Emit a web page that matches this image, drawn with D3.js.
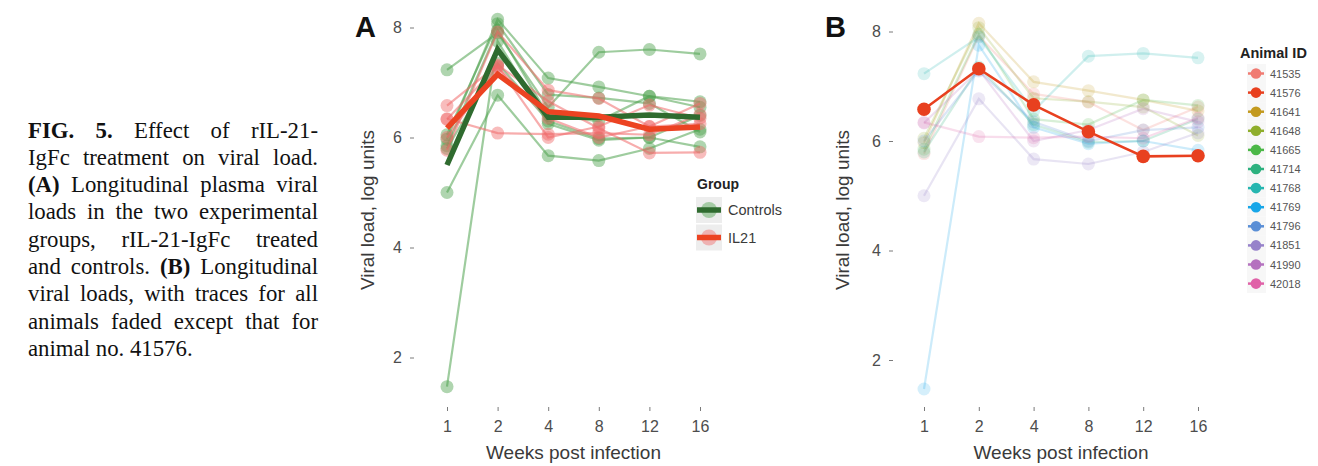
<!DOCTYPE html>
<html><head><meta charset="utf-8">
<script src="https://cdn.jsdelivr.net/npm/d3@7"></script>
<style>body{margin:0;background:#fff}svg{display:block}</style>
</head><body>
<svg id="c" width="1318" height="466"></svg>
<script>
// ---------- data ----------
const weeks = ["1","2","4","8","12","16"];
const yTicks = [2,4,6,8];
const animalIds = ["41535","41576","41641","41648","41665","41714","41768","41769","41796","41851","41990","42018"];
const animalGroups = ["IL21","IL21","Controls","Controls","Controls","Controls","Controls","Controls","IL21","Controls","IL21","IL21"];
const animalColors = ["#F07B72","#E8401F","#C39A1F","#8FAE2C","#4CB848","#2DB17F","#27B6B0","#17A6E8","#5A8FD6","#9782CA","#B572BF","#E062A8"];
const v41535 = [5.77, 7.92, 6.86, 6.71, 6.20, 6.62];
const v41576 = [6.58, 7.32, 6.66, 6.17, 5.72, 5.73];
const v41641 = [5.97, 8.15, 7.08, 6.92, 6.75, 6.55];
const v41648 = [6.05, 8.07, 6.78, 6.72, 6.62, 6.10];
const v41665 = [5.85, 7.95, 6.40, 6.30, 6.75, 6.65];
const v41714 = [5.80, 7.35, 6.30, 5.98, 6.00, 6.40];
const v41768 = [7.23, 7.90, 6.55, 7.55, 7.60, 7.52];
const v41769 = [1.47, 7.75, 6.25, 5.95, 6.00, 5.83];
const v41796 = [6.00, 7.28, 6.35, 6.00, 6.20, 6.25];
const v41851 = [5.00, 6.77, 5.67, 5.58, 5.80, 6.15];
const v41990 = [6.33, 7.30, 6.00, 6.20, 6.59, 6.35];
const v42018 = [6.34, 6.08, 6.06, 6.08, 6.05, 6.42];
const controlsMean = [5.50, 7.60, 6.37, 6.37, 6.41, 6.37];
const il21Mean = [6.17, 7.15, 6.47, 6.39, 6.15, 6.19];
const groupNames = ["Controls","IL21"];
const highlightId = "41576";

const animalValues = [v41535,v41576,v41641,v41648,v41665,v41714,v41768,v41769,v41796,v41851,v41990,v42018];
const animals = animalIds.map((id,i)=>({id, group:animalGroups[i], color:animalColors[i],
  pts: weeks.map((w,j)=>({w, v:animalValues[i][j]}))}));
const means = [
  {group:"Controls", pts: weeks.map((w,j)=>({w, v:controlsMean[j]}))},
  {group:"IL21", pts: weeks.map((w,j)=>({w, v:il21Mean[j]}))}
];

// ---------- styles ----------
const indivColor = {Controls:"#4EA24E", IL21:"#F06A6A"};
const meanColor = {Controls:"#2F6B2F", IL21:"#EC4322"};
const svg = d3.select("#c");
const tickCol = "#4D4D4D";

// ---------- caption ----------
const capLines = [
  [["FIG.",1],["5.",1],["Effect",0],["of",0],["rIL-21-",0]],
  [["IgFc",0],["treatment",0],["on",0],["viral",0],["load.",0]],
  [["(A)",1],["Longitudinal",0],["plasma",0],["viral",0]],
  [["loads",0],["in",0],["the",0],["two",0],["experimental",0]],
  [["groups,",0],["rIL-21-IgFc",0],["treated",0]],
  [["and",0],["controls.",0],["(B)",1],["Longitudinal",0]],
  [["viral",0],["loads,",0],["with",0],["traces",0],["for",0],["all",0]],
  [["animals",0],["faded",0],["except",0],["that",0],["for",0]],
  [["animal",0],["no.",0],["41576.",0]]
];
const capX0 = 28, capX1 = 318, capY0 = 137.5, capDy = 27.3, capFs = 22.8;
const cap = svg.append("g").attr("font-family","'Liberation Serif','Times New Roman',serif")
  .attr("font-size",capFs).attr("fill","#111");
const measure = cap.append("text").attr("x",-1000).attr("y",-1000);
function wlen(t,b){ measure.text(t).attr("font-weight",b?"bold":"normal"); return measure.node().getComputedTextLength(); }
const spaceW = wlen("a a",0)-wlen("aa",0);
capLines.forEach((line,li)=>{
  const ws = line.map(([t,b])=>wlen(t,b));
  const tot = d3.sum(ws);
  const last = li===capLines.length-1;
  const gap = last ? spaceW : (capX1-capX0-tot)/(line.length-1);
  let x = capX0;
  line.forEach(([t,b],k)=>{
    cap.append("text").attr("x",x).attr("y",capY0+li*capDy).attr("font-weight",b?"bold":"normal").text(t);
    x += ws[k]+gap;
  });
});
measure.remove();

// ---------- panel helper ----------
function panel(cfg){
  const x = d3.scalePoint().domain(weeks).range([cfg.x0,cfg.x1]);
  const y = d3.scaleLinear().domain([2,8]).range([cfg.y2,cfg.y8]);
  const g = svg.append("g");
  const ya = d3.axisLeft(y).tickValues(yTicks).tickSize(4).tickPadding(8).tickFormat(d3.format("d"));
  const yg = g.append("g").attr("transform",`translate(${cfg.axX},0)`).call(ya);
  yg.select(".domain").remove();
  yg.selectAll("line").attr("stroke","#7a7a7a");
  yg.selectAll("text").attr("font-family","'Liberation Sans',Arial,sans-serif").attr("font-size",16).attr("fill",tickCol);
  const xa = d3.axisBottom(x).tickSize(4).tickPadding(10);
  const xg = g.append("g").attr("transform",`translate(0,${cfg.axY})`).call(xa);
  xg.select(".domain").remove();
  xg.selectAll("line").attr("stroke","#7a7a7a");
  xg.selectAll("text").attr("font-family","'Liberation Sans',Arial,sans-serif").attr("font-size",16).attr("fill",tickCol);
  g.append("text").attr("transform",`translate(${cfg.yTitleX},${cfg.yTitleY}) rotate(-90)`)
    .attr("text-anchor","middle").attr("font-family","'Liberation Sans',Arial,sans-serif")
    .attr("font-size",19).attr("fill","#3a3a3a").text("Viral load, log units");
  g.append("text").attr("x",(cfg.x0+cfg.x1)/2).attr("y",459).attr("text-anchor","middle")
    .attr("font-family","'Liberation Sans',Arial,sans-serif").attr("font-size",19).attr("fill","#3a3a3a")
    .text("Weeks post infection");
  g.append("text").attr("x",cfg.letterX).attr("y",37).attr("font-family","'Liberation Sans',Arial,sans-serif")
    .attr("font-weight","bold").attr("font-size",29).attr("fill","#111").text(cfg.letter);
  return {x,y,g};
}

// ---------- Panel A ----------
{
  const {x,y,g} = panel({x0:447,x1:700,y8:27.5,y2:357.5,axX:414,axY:407,yTitleX:374,yTitleY:210,letter:"A",letterX:355});
  const line = d3.line().x(d=>x(d.w)).y(d=>y(d.v));
  groupNames.forEach(gr=>{
    const sub = animals.filter(a=>a.group===gr);
    g.selectAll(null).data(sub).enter().append("path").attr("d",d=>line(d.pts))
      .attr("fill","none").attr("stroke",indivColor[gr]).attr("stroke-width",2.2).attr("stroke-opacity",0.55);
    sub.forEach(a=>{
      g.selectAll(null).data(a.pts).enter().append("circle").attr("cx",d=>x(d.w)).attr("cy",d=>y(d.v))
        .attr("r",6.5).attr("fill",indivColor[gr]).attr("fill-opacity",0.45);
    });
  });
  means.forEach(m=>{
    g.append("path").attr("d",line(m.pts)).attr("fill","none").attr("stroke",meanColor[m.group])
      .attr("stroke-width",5.5).attr("stroke-linejoin","miter");
  });
  const lg = svg.append("g").attr("font-family","'Liberation Sans',Arial,sans-serif");
  lg.append("text").attr("x",697).attr("y",189).attr("font-weight","bold").attr("font-size",14).attr("fill","#222").text("Group");
  groupNames.forEach((gr,i)=>{
    const ky = 197 + i*27.5;
    lg.append("rect").attr("x",696).attr("y",ky).attr("width",26).attr("height",26).attr("fill","#EDEDED");
    lg.append("circle").attr("cx",709).attr("cy",ky+13).attr("r",8).attr("fill",indivColor[gr]).attr("fill-opacity",0.45);
    lg.append("line").attr("x1",697).attr("x2",721).attr("y1",ky+13).attr("y2",ky+13)
      .attr("stroke",meanColor[gr]).attr("stroke-width",5.5);
    lg.append("text").attr("x",728).attr("y",ky+18).attr("font-size",14.5).attr("fill","#3a3a3a").text(gr);
  });
}

// ---------- Panel B ----------
{
  const {x,y,g} = panel({x0:924,x1:1198,y8:31.5,y2:360,axX:893,axY:407,yTitleX:849,yTitleY:210,letter:"B",letterX:825});
  const line = d3.line().x(d=>x(d.w)).y(d=>y(d.v));
  const faded = animals.filter(a=>a.id!==highlightId);
  const hi = animals.filter(a=>a.id===highlightId);
  g.selectAll(null).data(faded).enter().append("path").attr("d",d=>line(d.pts))
    .attr("fill","none").attr("stroke",d=>d.color).attr("stroke-width",2.2).attr("stroke-opacity",0.22);
  faded.forEach(a=>{
    g.selectAll(null).data(a.pts).enter().append("circle").attr("cx",d=>x(d.w)).attr("cy",d=>y(d.v))
      .attr("r",6.5).attr("fill",a.color).attr("fill-opacity",0.18);
  });
  hi.forEach(a=>{
    g.append("path").attr("d",line(a.pts)).attr("fill","none").attr("stroke",a.color).attr("stroke-width",2.6);
    g.selectAll(null).data(a.pts).enter().append("circle").attr("cx",d=>x(d.w)).attr("cy",d=>y(d.v))
      .attr("r",6.8).attr("fill",a.color);
  });
  const lg = svg.append("g").attr("font-family","'Liberation Sans',Arial,sans-serif");
  lg.append("text").attr("x",1240).attr("y",58).attr("font-weight","bold").attr("font-size",14.5).attr("fill","#222").text("Animal ID");
  animals.forEach((a,i)=>{
    const ky = 73.5 + i*19.1;
    lg.append("rect").attr("x",1247).attr("y",ky-9.5).attr("width",19).attr("height",19).attr("fill","#F7F7F7");
    lg.append("circle").attr("cx",1256).attr("cy",ky).attr("r",5.3).attr("fill",a.color);
    lg.append("line").attr("x1",1248).attr("x2",1264).attr("y1",ky).attr("y2",ky).attr("stroke",a.color).attr("stroke-width",2.5);
    lg.append("text").attr("x",1270).attr("y",ky+4).attr("font-size",11).attr("fill","#555").text(a.id);
  });
}
</script>
</body></html>
